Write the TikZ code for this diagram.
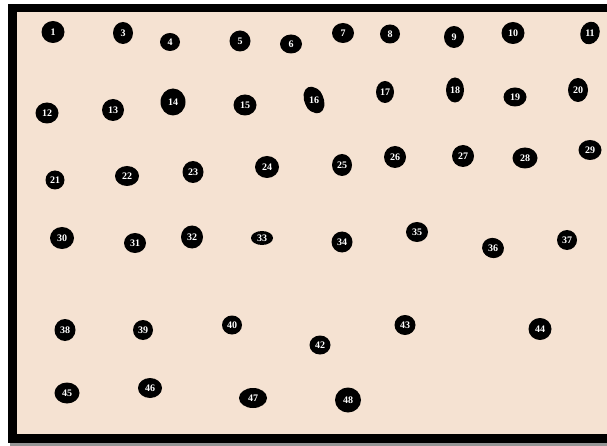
\documentclass[tikz,border=0pt]{standalone}
\usepackage{fontspec}
\setmainfont{Liberation Serif}
\usetikzlibrary{shapes.geometric}
\definecolor{beige}{RGB}{245,226,210}
\definecolor{shadowgray}{RGB}{150,150,150}
\tikzset{
  dot/.style={ellipse, fill=black, text=white, inner sep=0pt,
    minimum width=22pt, minimum height=20pt,
    font=\fontsize{10}{10}\selectfont\bfseries},
  sz/.style 2 args={minimum width=#1pt, minimum height=#2pt}
}
\begin{document}
\begin{tikzpicture}[x=1pt,y=-1pt]
\useasboundingbox (0,0) rectangle (607,446);
\fill[white] (0,0) rectangle (607,446);
\fill[shadowgray] (10,443) rectangle (607,446);
\fill[black] (8,4) rectangle (607,443);
\fill[beige] (17,12) rectangle (607,434);
% tilted blobs drawn beneath their nodes
\fill[black,rotate around={25:(314,100)}] (314,100) ellipse [x radius=9.5pt, y radius=14pt];
\fill[black,rotate around={-20:(590,33)}] (590,33) ellipse [x radius=9.5pt, y radius=11.5pt];
\fill[black,rotate around={-20:(493,248)}] (493,248) ellipse [x radius=11pt, y radius=10pt];
% row 1
\node[dot,sz={23}{22}] (n1) at (53,32) {1};
\node[dot,sz={20}{22}] (n3) at (123,33) {3};
\node[dot,sz={20}{18}] (n4) at (170,42) {4};
\node[dot,sz={21}{21}] (n5) at (240,41) {5};
\node[dot,sz={22}{19}] (n6) at (291,44) {6};
\node[dot,sz={22}{20}] (n7) at (343,33) {7};
\node[dot,sz={20}{19}] (n8) at (390,34) {8};
\node[dot,sz={20}{22}] (n9) at (454,37) {9};
\node[dot,sz={23}{22}] (n10) at (513,33) {10};
\node[dot,sz={18}{20}] (n11) at (590,33) {11};
% row 2
\node[dot,sz={23}{21}] (n12) at (47,113) {12};
\node[dot,sz={22}{22}] (n13) at (113,110) {13};
\node[dot,sz={25}{27}] (n14) at (173,102) {14};
\node[dot,sz={23}{21}] (n15) at (245,105) {15};
\node[dot,sz={18}{24}] (n16) at (314,100) {16};
\node[dot,sz={18}{22}] (n17) at (385,92) {17};
\node[dot,sz={18}{25}] (n18) at (455,90) {18};
\node[dot,sz={23}{19}] (n19) at (515,97) {19};
\node[dot,sz={20}{24}] (n20) at (578,90) {20};
% row 3
\node[dot,sz={19}{19}] (n21) at (55,180) {21};
\node[dot,sz={24}{20}] (n22) at (127,176) {22};
\node[dot,sz={21}{22}] (n23) at (193,172) {23};
\node[dot,sz={24}{22}] (n24) at (267,167) {24};
\node[dot,sz={20}{22}] (n25) at (342,165) {25};
\node[dot,sz={22}{22}] (n26) at (395,157) {26};
\node[dot,sz={22}{22}] (n27) at (463,156) {27};
\node[dot,sz={25}{21}] (n28) at (525,158) {28};
\node[dot,sz={23}{20}] (n29) at (590,150) {29};
% row 4
\node[dot,sz={24}{22}] (n30) at (62,238) {30};
\node[dot,sz={22}{20}] (n31) at (135,243) {31};
\node[dot,sz={22}{23}] (n32) at (192,237) {32};
\node[dot,sz={22}{14}] (n33) at (262,238) {33};
\node[dot,sz={21}{21}] (n34) at (342,242) {34};
\node[dot,sz={22}{20}] (n35) at (417,232) {35};
\node[dot,sz={21}{19}] (n36) at (493,248) {36};
\node[dot,sz={20}{20}] (n37) at (567,240) {37};
% row 5
\node[dot,sz={21}{22}] (n38) at (65,330) {38};
\node[dot,sz={20}{20}] (n39) at (143,330) {39};
\node[dot,sz={20}{19}] (n40) at (232,325) {40};
\node[dot,sz={21}{19}] (n42) at (320,345) {42};
\node[dot,sz={21}{20}] (n43) at (405,325) {43};
\node[dot,sz={23}{22}] (n44) at (540,329) {44};
% row 6
\node[dot,sz={25}{21}] (n45) at (67,393) {45};
\node[dot,sz={24}{20}] (n46) at (150,388) {46};
\node[dot,sz={28}{20}] (n47) at (253,398) {47};
\node[dot,sz={26}{25}] (n48) at (348,400) {48};
\end{tikzpicture}
\end{document}
